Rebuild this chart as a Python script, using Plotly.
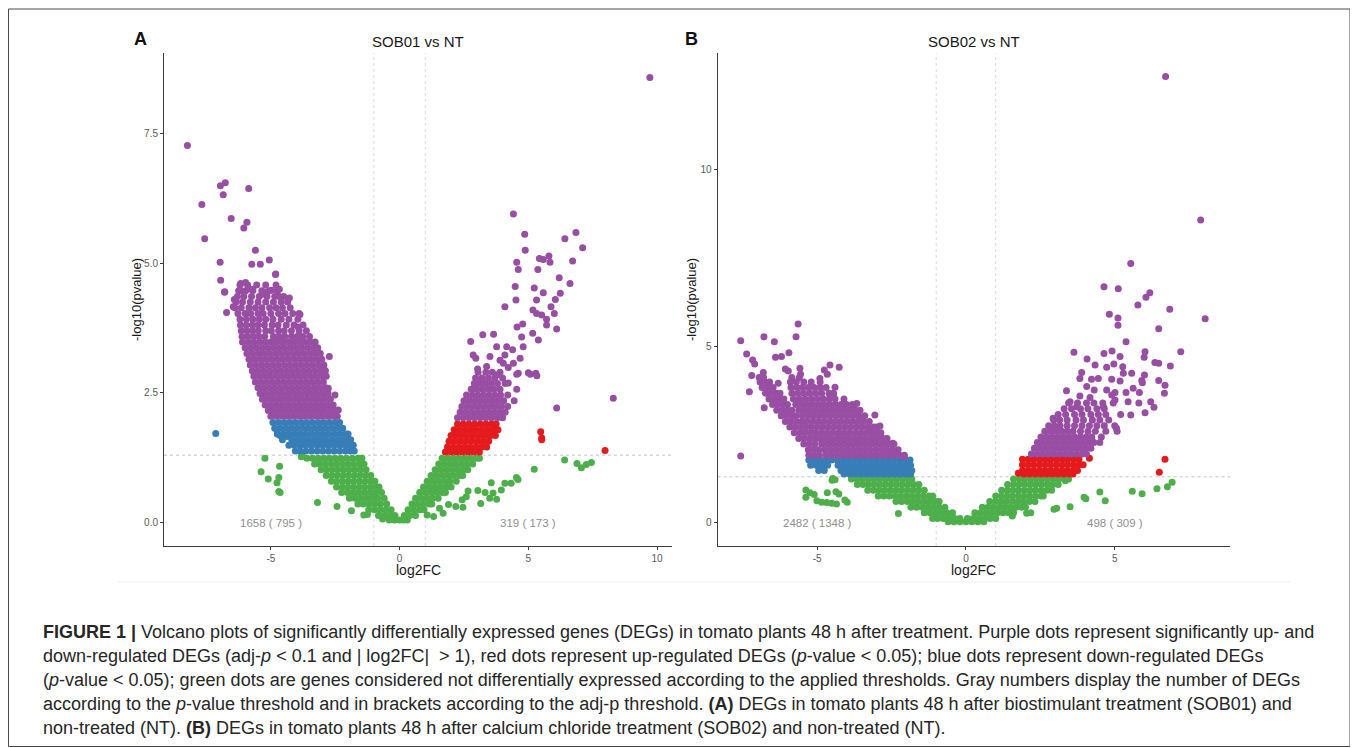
import plotly.graph_objects as go

# ---------------- colours ----------------
PURPLE = "#984EA3"
RED = "#E41A1C"
BLUE = "#377EB8"
GREEN = "#4DAF4A"

# =============== Panel A : SOB01 vs NT ===============
A_title = "SOB01 vs NT"
A_xticks = [-5, 0, 5, 10]
A_yticks = [0, 2.5, 5, 7.5]
A_yticktext = ["0.0", "2.5", "5.0", "7.5"]
A_counts_left = "1658 ( 795 )"
A_counts_right = "319 ( 173 )"

# dense rows: (log10 p, [log2FC ...])
A_green_left_rows = [
    (1.24, [-3.6, -3.38, -3.16, -2.94, -2.72, -2.5, -2.28, -2.06, -1.84, -1.62, -1.47]),
    (1.13, [-3.3, -3.1, -2.88, -2.66, -2.44, -2.22, -2.0, -1.78, -1.56, -1.38]),
    (1.02, [-3.05, -2.84, -2.62, -2.4, -2.18, -1.96, -1.74, -1.52, -1.3]),
    (0.91, [-2.85, -2.64, -2.42, -2.2, -1.98, -1.76, -1.54, -1.32, -1.12]),
    (0.80, [-2.65, -2.44, -2.22, -2.0, -1.78, -1.56, -1.34, -1.12, -0.96]),
    (0.69, [-2.45, -2.23, -2.01, -1.79, -1.57, -1.35, -1.13, -0.91, -0.8]),
    (0.58, [-2.25, -2.03, -1.81, -1.59, -1.37, -1.15, -0.93, -0.7]),
    (0.47, [-1.95, -1.73, -1.51, -1.29, -1.07, -0.85, -0.6]),
    (0.36, [-1.62, -1.4, -1.18, -0.96, -0.74, -0.5]),
    (0.25, [-1.2, -0.98, -0.76, -0.54, -0.33]),
    (0.14, [-0.82, -0.6, -0.38, -0.18]),
    (0.05, [-0.4, -0.2, 0.0]),
]
A_green_right_rows = [
    (1.24, [1.65, 1.87, 2.09, 2.31, 2.53, 2.75, 2.97, 3.1]),
    (1.13, [1.52, 1.74, 1.96, 2.18, 2.4, 2.62, 2.84]),
    (1.02, [1.38, 1.6, 1.82, 2.04, 2.26, 2.48, 2.65]),
    (0.91, [1.22, 1.44, 1.66, 1.88, 2.1, 2.32, 2.45]),
    (0.80, [1.07, 1.29, 1.51, 1.73, 1.95, 2.2]),
    (0.69, [0.93, 1.15, 1.37, 1.59, 1.81, 2.0]),
    (0.58, [0.78, 1.0, 1.22, 1.44, 1.66, 1.78]),
    (0.47, [0.62, 0.84, 1.06, 1.28, 1.5]),
    (0.36, [0.48, 0.7, 0.92, 1.14, 1.25]),
    (0.25, [0.33, 0.55, 0.77, 0.95]),
    (0.14, [0.18, 0.4, 0.62]),
    (0.05, [0.15, 0.3]),
]
A_green_pts = [
    (-3.82, 1.27), (-5.23, 1.24), (-5.38, 0.98), (-5.10, 0.84), (-4.76, 0.77), (-4.69, 0.87),
    (-4.66, 1.09), (-4.69, 0.60), (-4.64, 0.58), (-3.19, 0.39), (-2.43, 0.31), (-1.87, 0.23),
    (-1.39, 0.15), (-1.25, 0.16), (-1.47, 1.24), (-3.79, 1.29), (-0.66, 0.07),
    (6.41, 1.21), (5.23, 1.03), (6.89, 1.14), (7.06, 1.06), (7.25, 1.12), (7.45, 1.16),
    (4.54, 0.87), (4.60, 0.83), (4.33, 0.76), (4.09, 0.76), (3.56, 0.77), (3.95, 0.63),
    (3.63, 0.57), (3.77, 0.45), (3.50, 0.47), (3.32, 0.58), (3.04, 0.62), (3.15, 0.37),
    (2.66, 0.61), (2.59, 0.50), (2.43, 0.44), (2.18, 0.31), (2.46, 0.30), (1.90, 0.35),
    (1.69, 0.18), (1.55, 0.28), (1.32, 0.12), (1.07, 0.15),
]
A_blue_rows = [
    (1.93, [-4.92, -4.7, -4.48, -4.26, -4.04, -3.82, -3.6, -3.38, -3.16, -2.94, -2.72, -2.5, -2.33]),
    (1.82, [-4.85, -4.63, -4.41, -4.19, -3.97, -3.75, -3.53, -3.31, -3.09, -2.87, -2.65, -2.43, -2.21]),
    (1.71, [-4.75, -4.52, -4.3, -4.08, -3.86, -3.64, -3.42, -3.2, -2.98, -2.76, -2.54, -2.32, -2.1, -2.0]),
    (1.60, [-4.55, -4.19, -3.97, -3.75, -3.53, -3.31, -3.09, -2.87, -2.65, -2.43, -2.21, -2.0, -1.9]),
    (1.49, [-4.3, -4.08, -3.86, -3.64, -3.42, -3.2, -2.98, -2.76, -2.54, -2.32, -2.1, -1.9, -1.8]),
    (1.38, [-4.05, -3.86, -3.64, -3.42, -3.2, -2.98, -2.76, -2.54, -2.32, -2.1, -1.92, -1.76]),
]
A_blue_pts = [(-7.14, 1.72), (-4.77, 1.79), (-4.64, 1.68), (-4.36, 1.66)]
A_red_rows = [
    (1.90, [2.25, 2.47, 2.69, 2.91, 3.13, 3.35, 3.57, 3.75]),
    (1.79, [2.12, 2.34, 2.56, 2.78, 3.0, 3.22, 3.44, 3.66, 3.82]),
    (1.68, [2.0, 2.22, 2.44, 2.66, 2.88, 3.1, 3.32, 3.54, 3.72]),
    (1.57, [1.92, 2.14, 2.36, 2.58, 2.8, 3.02, 3.24, 3.46]),
    (1.46, [1.86, 2.08, 2.3, 2.52, 2.74, 2.96, 3.18, 3.38]),
    (1.36, [1.78, 2.0, 2.22, 2.44, 2.66, 2.88, 3.1]),
]
A_red_pts = [(5.48, 1.75), (5.52, 1.63), (5.52, 1.60), (7.98, 1.39)]
A_purple_rows = [
    (2.05, [-5.0, -4.78, -4.56, -4.34, -4.12, -3.9, -3.68, -3.46, -3.24, -3.02, -2.8, -2.58, -2.42]),
    (2.16, [-5.1, -4.89, -4.67, -4.45, -4.23, -4.01, -3.79, -3.57, -3.35, -3.13, -2.91, -2.69, -2.47]),
    (2.27, [-5.22, -5.0, -4.78, -4.56, -4.34, -4.12, -3.9, -3.68, -3.46, -3.24, -3.02, -2.8, -2.58]),
    (2.38, [-5.33, -5.11, -4.89, -4.67, -4.45, -4.23, -4.01, -3.79, -3.57, -3.35, -3.13, -2.91, -2.69]),
    (2.49, [-5.42, -5.2, -4.98, -4.76, -4.54, -4.32, -4.1, -3.88, -3.66, -3.44, -3.22, -3.0, -2.78]),
    (2.60, [-5.5, -5.29, -5.07, -4.85, -4.63, -4.41, -4.19, -3.97, -3.75, -3.53, -3.31, -3.09, -2.87]),
    (2.71, [-5.6, -5.38, -5.16, -4.94, -4.72, -4.5, -4.28, -4.06, -3.84, -3.62, -3.4, -3.18, -2.96]),
    (2.82, [-5.66, -5.45, -5.23, -5.01, -4.79, -4.57, -4.35, -4.13, -3.91, -3.69, -3.47, -3.25, -3.03, -2.85]),
    (2.93, [-5.72, -5.5, -5.28, -5.06, -4.84, -4.62, -4.4, -4.18, -3.96, -3.74, -3.52, -3.3, -3.08, -2.88]),
    (3.04, [-5.8, -5.58, -5.36, -5.14, -4.92, -4.7, -4.48, -4.26, -4.04, -3.82, -3.6, -3.38, -3.16, -2.94]),
    (3.15, [-5.85, -5.64, -5.42, -5.2, -4.98, -4.76, -4.54, -4.32, -4.1, -3.88, -3.66, -3.44, -3.22, -3.02]),
    (3.26, [-5.93, -5.71, -5.49, -5.27, -5.05, -4.83, -4.61, -4.39, -4.17, -3.95, -3.73, -3.51, -3.29, -3.08]),
    (3.37, [-6.0, -5.78, -5.56, -5.34, -5.12, -4.9, -4.68, -4.46, -4.24, -4.02, -3.8, -3.58, -3.36, -3.18]),
    (3.48, [-6.1, -5.88, -5.66, -5.44, -5.22, -5.0, -4.78, -4.56, -4.34, -4.12, -3.9, -3.68, -3.46, -3.28]),
    (3.59, [-6.12, -5.9, -5.68, -5.46, -5.24, -4.9, -4.68, -4.46, -4.2, -3.98, -3.76, -3.5]),
    (3.70, [-6.15, -5.93, -5.71, -5.49, -5.2, -4.98, -4.7, -4.48, -4.2, -3.9, -3.62]),
    (3.81, [-6.18, -5.96, -5.72, -5.5, -5.25, -4.95, -4.72, -4.4, -4.1, -3.75]),
    (3.92, [-6.2, -5.95, -5.7, -5.45, -5.2, -4.92, -4.6, -4.3, -3.95]),
    (4.03, [-6.28, -6.0, -5.78, -5.5, -5.3, -5.0, -4.7, -4.45, -4.15, -3.9]),
    (4.14, [-6.4, -6.15, -5.85, -5.6, -5.35, -5.05, -4.8, -4.55, -4.25]),
    (4.25, [-6.35, -6.1, -5.8, -5.5, -5.2, -4.9, -4.6, -4.35]),
    (4.36, [-6.3, -6.05, -5.75, -5.45, -5.15, -4.85, -4.5]),
    (4.47, [-6.25, -5.98, -5.7, -5.35, -5.05, -4.75]),
    (4.58, [-6.2, -5.9, -5.55, -5.2, -4.8]),
    # right arm, dense lower part
    (2.02, [2.25, 2.47, 2.69, 2.91, 3.13, 3.35, 3.57, 3.79, 4.0]),
    (2.13, [2.35, 2.57, 2.79, 3.01, 3.23, 3.45, 3.67, 3.89, 4.1]),
    (2.24, [2.42, 2.64, 2.86, 3.08, 3.3, 3.52, 3.74, 3.96, 4.2]),
    (2.35, [2.5, 2.72, 2.94, 3.16, 3.38, 3.6, 3.82, 4.04, 4.45]),
    (2.46, [2.6, 2.82, 3.04, 3.26, 3.48, 3.7, 3.92, 4.2]),
    (2.57, [2.78, 3.0, 3.22, 3.44, 3.66, 3.9, 4.55]),
    (2.68, [2.9, 3.12, 3.34, 3.56, 3.8, 4.1]),
    (2.79, [2.95, 3.2, 3.45, 3.7, 4.0]),
    (2.90, [3.05, 3.35, 3.6, 3.9]),
]
A_purple_pts = [
    (-8.24, 7.27), (-7.68, 6.13), (-7.57, 5.47), (-6.96, 6.49), (-6.77, 6.55), (-6.85, 6.32),
    (-5.86, 6.44), (-6.54, 5.86), (-5.93, 5.79), (-6.05, 5.68), (-5.60, 5.25), (-6.97, 5.02),
    (-5.41, 4.98), (-5.74, 4.98), (-5.06, 5.06), (-6.95, 4.67), (-4.82, 4.78), (-6.17, 4.61),
    (-5.98, 4.63), (-6.80, 4.44), (-6.09, 4.46), (-5.85, 4.51), (-5.70, 4.50), (-5.34, 4.40),
    (-5.15, 4.45), (-4.98, 4.48), (-4.67, 4.50), (-4.67, 4.36), (-6.42, 4.30), (-4.28, 4.33),
    (-6.79, 4.45), (-6.72, 4.05), (-4.81, 4.79), (-3.87, 4.01), (-3.94, 3.77), (-2.73, 3.20),
    (-2.96, 2.99), (-2.77, 2.59), (-2.51, 2.46), (-2.38, 2.17), (-6.46, 4.16),
    (4.42, 5.95), (4.86, 5.56), (4.88, 5.25), (6.42, 5.47), (6.85, 5.59), (7.11, 5.30),
    (6.72, 5.04), (4.55, 5.02), (4.61, 4.88), (5.37, 4.88), (5.43, 5.09), (5.58, 5.07),
    (5.80, 5.14), (5.84, 5.02), (6.20, 4.72), (6.62, 4.61), (4.49, 4.55), (5.23, 4.52),
    (5.58, 4.43), (6.24, 4.42), (4.52, 4.29), (5.32, 4.29), (6.05, 4.30), (4.09, 4.16),
    (5.18, 4.10), (5.88, 4.16), (5.32, 4.03), (5.52, 4.00), (5.71, 3.92), (6.01, 4.03),
    (4.78, 3.83), (4.56, 3.77), (5.71, 3.81), (6.10, 3.73), (3.23, 3.62), (3.65, 3.63),
    (4.74, 3.58), (5.17, 3.65), (5.39, 3.52), (2.76, 3.49), (3.77, 3.39), (4.16, 3.39),
    (4.39, 3.33), (4.80, 3.39), (2.96, 3.17), (3.51, 3.20), (4.09, 3.23), (4.68, 3.17),
    (3.03, 2.96), (3.38, 3.01), (4.03, 3.07), (4.42, 3.07), (4.61, 2.88), (5.00, 2.89),
    (5.29, 2.88), (2.99, 2.75), (3.79, 2.85), (4.22, 2.69), (2.86, 3.23), (3.90, 3.13),
    (4.22, 2.99), (4.55, 2.86), (5.08, 2.86), (5.33, 2.83),
    (8.30, 2.40), (6.10, 2.21), (9.72, 8.58),
]

# =============== Panel B : SOB02 vs NT ===============
B_title = "SOB02 vs NT"
B_xticks = [-5, 0, 5]
B_yticks = [0, 5, 10]
B_yticktext = ["0", "5", "10"]
B_counts_left = "2482 ( 1348 )"
B_counts_right = "498 ( 309 )"

B_green_left_rows = [
    (1.24, [-3.85, -3.66, -3.47, -3.28, -3.09, -2.9, -2.71, -2.52, -2.33, -2.14, -1.95, -1.82]),
    (1.08, [-3.65, -3.46, -3.27, -3.08, -2.89, -2.7, -2.51, -2.32, -2.13, -1.94, -1.75, -1.58]),
    (0.92, [-3.3, -3.11, -2.92, -2.73, -2.54, -2.35, -2.16, -1.97, -1.78, -1.59, -1.4]),
    (0.76, [-2.95, -2.76, -2.57, -2.38, -2.19, -2.0, -1.81, -1.62, -1.43, -1.24, -1.12]),
    (0.60, [-2.35, -2.16, -1.97, -1.78, -1.59, -1.4, -1.21, -1.02, -0.9]),
    (0.44, [-1.85, -1.66, -1.47, -1.28, -1.09, -0.9, -0.71]),
    (0.28, [-1.4, -1.21, -1.02, -0.83, -0.64, -0.45]),
    (0.12, [-0.95, -0.76, -0.57, -0.38, -0.2]),
    (0.03, [-0.6, -0.4, -0.2, 0.0, 0.2]),
]
B_green_right_rows = [
    (1.24, [1.6, 1.79, 1.98, 2.17, 2.36, 2.55, 2.74, 2.93, 3.12, 3.31, 3.45]),
    (1.08, [1.4, 1.59, 1.78, 1.97, 2.16, 2.35, 2.54, 2.73, 2.92, 3.1]),
    (0.92, [1.2, 1.39, 1.58, 1.77, 1.96, 2.15, 2.34, 2.53, 2.72, 2.88]),
    (0.76, [1.0, 1.19, 1.38, 1.57, 1.76, 1.95, 2.14, 2.33, 2.52, 2.6]),
    (0.60, [0.8, 0.99, 1.18, 1.37, 1.56, 1.75, 1.94, 2.13, 2.32]),
    (0.44, [0.55, 0.74, 0.93, 1.12, 1.31, 1.5, 1.69, 1.88, 2.0]),
    (0.28, [0.3, 0.49, 0.68, 0.87, 1.06, 1.25, 1.44, 1.6]),
    (0.12, [0.05, 0.24, 0.43, 0.62, 0.81, 1.0]),
    (0.03, [0.4, 0.6]),
]
B_green_pts = [
    (-4.5, 1.2), (-4.4, 1.22), (-5.38, 0.93), (-5.24, 0.85), (-5.10, 0.80), (-5.38, 0.72),
    (-5.01, 0.62), (-4.66, 0.85), (-4.37, 0.88), (-4.27, 0.81), (-4.07, 0.64), (-3.99, 0.58),
    (-4.85, 0.58), (-4.68, 0.57), (-4.51, 0.55), (-4.35, 0.53), (-4.48, 1.25), (-2.27, 0.26),
    (-1.12, 0.12),
    (3.34, 1.19), (4.50, 0.87), (4.68, 0.62), (5.59, 0.89), (5.92, 0.82), (6.42, 0.96),
    (6.77, 1.02), (6.93, 1.15), (3.97, 0.72), (4.03, 0.68), (3.50, 0.45), (3.05, 0.41),
    (2.96, 0.38), (2.18, 0.28), (2.04, 0.27), (1.56, 0.19),
]
B_blue_rows = [
    (1.78, [-5.28, -5.09, -4.9, -4.71, -4.52, -4.33, -4.14, -3.95, -3.76, -3.57, -3.38, -3.19,
            -3.0, -2.81, -2.62, -2.43, -2.24, -2.05, -1.88]),
    (1.63, [-5.22, -5.03, -4.84, -4.65, -4.3, -4.11, -3.92, -3.73, -3.54, -3.35, -3.16, -2.97,
            -2.78, -2.59, -2.4, -2.21, -2.02, -1.86]),
    (1.48, [-4.95, -4.76, -4.2, -4.01, -3.82, -3.63, -3.44, -3.25, -3.06, -2.87, -2.68, -2.49,
            -2.3, -2.11, -1.92, -1.82]),
    (1.38, [-4.1, -3.91, -3.72, -3.53, -3.34, -3.15, -2.96, -2.77, -2.58, -2.39, -2.2, -2.01, -1.86]),
]
B_red_rows = [
    (1.80, [1.9, 2.09, 2.28, 2.47, 2.66, 2.85, 3.04, 3.23, 3.42, 3.61, 3.8]),
    (1.64, [1.9, 2.09, 2.28, 2.47, 2.66, 2.85, 3.04, 3.23, 3.42, 3.61, 3.8, 3.94]),
    (1.48, [1.9, 2.09, 2.28, 2.47, 2.66, 2.85, 3.04, 3.23, 3.42, 3.61, 3.75]),
    (1.38, [1.95, 2.14, 2.33, 2.52, 2.71, 2.9, 3.09, 3.28, 3.47, 3.6]),
]
B_red_pts = [(1.76, 1.40), (4.15, 1.83), (6.69, 1.80), (6.50, 1.43)]
B_purple_rows = [
    # left: diagonal streak + broad cluster
    (1.91, [-5.28, -5.1, -4.92, -4.7, -4.51, -4.32, -4.13, -3.94, -3.75, -3.56, -3.37, -3.18,
            -2.99, -2.8, -2.61, -2.42, -2.23, -2.07]),
    (2.07, [-5.3, -5.12, -4.95, -4.75, -4.56, -4.37, -4.18, -3.99, -3.8, -3.61, -3.42, -3.23,
            -3.04, -2.85, -2.66, -2.47, -2.28]),
    (2.23, [-5.45, -5.27, -5.08, -4.85, -4.66, -4.47, -4.28, -4.09, -3.9, -3.71, -3.52, -3.33,
            -3.14, -2.95, -2.76, -2.57, -2.42]),
    (2.39, [-5.62, -5.44, -5.25, -5.08, -4.93, -4.74, -4.55, -4.36, -4.17, -3.98, -3.79, -3.6,
            -3.41, -3.22, -3.03, -2.84, -2.65]),
    (2.55, [-5.77, -5.58, -5.4, -5.22, -5.05, -4.86, -4.67, -4.48, -4.29, -4.1, -3.91, -3.72,
            -3.53, -3.34, -3.15, -2.96, -2.86]),
    (2.71, [-5.92, -5.74, -5.55, -5.38, -5.2, -5.01, -4.82, -4.63, -4.44, -4.25, -4.06, -3.87,
            -3.68, -3.49, -3.3, -3.1, -3.0]),
    (2.87, [-6.07, -5.89, -5.7, -5.52, -5.35, -5.16, -4.97, -4.78, -4.59, -4.4, -4.21, -4.02,
            -3.83, -3.64, -3.45, -3.25]),
    (3.03, [-6.21, -6.03, -5.85, -5.7, -5.5, -5.31, -5.12, -4.93, -4.74, -4.55, -4.36, -4.17,
            -3.98, -3.79, -3.6, -3.4]),
    (3.19, [-6.36, -6.18, -6.0, -5.85, -5.62, -5.43, -5.24, -5.05, -4.86, -4.67, -4.48, -4.29,
            -4.1, -3.91, -3.72, -3.56]),
    (3.35, [-6.5, -6.32, -6.14, -6.0, -5.72, -5.53, -5.34, -5.15, -4.96, -4.77, -4.58, -4.39,
            -4.2, -4.01, -3.82]),
    (3.51, [-6.62, -6.44, -6.26, -6.12, -5.8, -5.6, -5.4, -5.2, -5.0, -4.8, -4.6, -4.4, -4.1]),
    (3.67, [-6.74, -6.56, -6.38, -6.25, -5.85, -5.65, -5.45, -5.25, -5.05, -4.85, -4.6, -4.45]),
    (3.83, [-6.85, -6.66, -6.48, -5.88, -5.68, -5.5, -5.3, -5.1, -4.9, -4.7]),
    (3.99, [-6.92, -6.75, -6.6, -5.9, -5.7, -5.45, -5.2, -4.9]),
    (4.12, [-6.95, -6.8, -5.85, -5.6]),
    # right arm, dense lower part
    (1.95, [2.2, 2.39, 2.58, 2.77, 2.96, 3.15, 3.34, 3.53, 3.72, 3.91, 4.05]),
    (2.11, [2.3, 2.49, 2.68, 2.87, 3.06, 3.25, 3.44, 3.63, 3.82, 4.01, 4.2]),
    (2.27, [2.4, 2.59, 2.78, 2.97, 3.16, 3.35, 3.54, 3.73, 3.92, 4.11, 4.3, 4.5]),
    (2.43, [2.52, 2.71, 2.9, 3.09, 3.28, 3.47, 3.66, 3.85, 4.04, 4.23, 4.55]),
    (2.59, [2.65, 2.84, 3.03, 3.22, 3.41, 3.6, 3.85, 4.1, 4.35, 4.7]),
    (2.75, [2.78, 2.97, 3.16, 3.4, 3.65, 3.9, 4.15, 4.4, 4.65, 5.0]),
    (2.91, [2.95, 3.15, 3.4, 3.7, 3.95, 4.25, 4.5, 4.8]),
    (3.07, [3.1, 3.35, 3.65, 3.9, 4.2, 4.45, 4.7, 5.2]),
    (3.23, [3.3, 3.55, 3.85, 4.1, 4.4, 4.65]),
    (3.39, [3.45, 3.75, 4.05, 4.3, 4.6, 4.95]),
]
B_purple_pts = [
    (-7.57, 5.16), (-6.79, 5.27), (-6.44, 5.13), (-5.71, 5.27), (-5.64, 5.63), (-7.37, 4.78),
    (-7.17, 4.61), (-7.10, 4.50), (-6.40, 4.69), (-6.20, 4.71), (-5.95, 4.82), (-7.20, 4.17),
    (-7.28, 3.71), (-6.81, 4.26), (-6.78, 3.26), (-7.57, 1.89), (-6.07, 4.36), (-5.97, 4.30),
    (-5.58, 4.38), (-5.56, 4.21), (-4.57, 4.47), (-4.26, 4.41), (-4.76, 4.33), (-4.66, 4.21),
    (-4.91, 4.09), (-6.31, 3.95), (-3.06, 3.05), (-2.89, 2.74), (-3.67, 3.38), (-3.51, 2.97),
    (-3.76, 3.24), (-2.46, 2.25), (-2.39, 2.03), (-2.07, 1.87), (-2.78, 2.39), (-3.17, 2.68),
    (-4.40, 3.84), (-4.46, 3.62),
    (6.71, 12.65), (7.89, 8.58), (5.54, 7.35), (4.64, 6.69), (5.12, 6.63), (6.05, 6.39),
    (6.18, 6.52), (5.78, 6.17), (6.85, 6.05), (8.04, 5.78), (4.82, 5.91), (5.11, 5.80),
    (5.11, 5.60), (6.48, 5.50), (5.38, 5.13), (3.63, 4.83), (4.64, 4.80), (4.91, 4.87),
    (6.02, 4.85), (7.22, 4.85), (4.07, 4.64), (5.18, 4.71), (5.99, 4.69), (6.35, 4.54),
    (6.48, 4.52), (6.87, 4.44), (4.34, 4.47), (4.73, 4.41), (4.97, 4.50), (5.27, 4.42),
    (3.89, 4.26), (5.29, 4.24), (5.57, 4.24), (3.83, 4.09), (4.22, 4.07), (4.45, 4.09),
    (4.90, 4.07), (5.18, 4.02), (5.91, 4.03), (6.00, 4.19), (6.48, 4.03), (6.69, 3.90),
    (4.06, 3.86), (4.31, 3.76), (4.73, 3.76), (5.01, 3.69), (5.38, 3.69), (5.62, 3.81),
    (5.93, 3.97), (6.67, 3.67), (3.38, 3.74), (3.83, 3.59), (4.17, 3.55), (3.50, 3.43),
    (5.01, 3.48), (5.45, 3.43), (5.83, 3.69), (6.21, 3.43), (5.81, 3.39), (5.54, 3.05),
    (6.02, 3.12), (6.32, 3.27), (2.93, 2.96), (3.72, 3.29), (5.06, 2.68), (5.08, 2.59),
    (4.90, 3.62), (4.62, 3.29),
]

CAPTION = [
    "<b>FIGURE 1 |</b> Volcano plots of significantly differentially expressed genes (DEGs) in tomato plants 48 h after treatment. Purple dots represent significantly up- and",
    "down-regulated DEGs (adj-<i>p</i> &lt; 0.1 and | log2FC|  &gt; 1), red dots represent up-regulated DEGs (<i>p</i>-value &lt; 0.05); blue dots represent down-regulated DEGs",
    "(<i>p</i>-value &lt; 0.05); green dots are genes considered not differentially expressed according to the applied thresholds. Gray numbers display the number of DEGs",
    "according to the <i>p</i>-value threshold and in brackets according to the adj-p threshold. <b>(A)</b> DEGs in tomato plants 48 h after biostimulant treatment (SOB01) and",
    "non-treated (NT). <b>(B)</b> DEGs in tomato plants 48 h after calcium chloride treatment (SOB02) and non-treated (NT).",
]


def unpack(rows, pts=()):
    xs, ys = [], []
    for yv, xl in rows:
        for xv in xl:
            xs.append(xv)
            ys.append(yv)
    for xv, yv in pts:
        xs.append(xv)
        ys.append(yv)
    return xs, ys


# the page body has an 8 px margin: the figure occupies screen pixels 8..1358 x 8..748
OFF = 8
W, H = 1358 - OFF, 748 - OFF
FONT = "Liberation Sans, Arial, Helvetica, sans-serif"
fig = go.Figure()


def px(p):
    return (p - OFF) / W


def py(p):
    return (H - (p - OFF)) / H


def add_group(xa, ya, rows, pts, color):
    xs, ys = unpack(rows, pts)
    fig.add_trace(go.Scatter(x=xs, y=ys, xaxis=xa, yaxis=ya, mode="markers",
                             marker=dict(color=color, size=7, line=dict(width=0)),
                             hoverinfo="skip", showlegend=False))


add_group("x", "y", A_green_left_rows + A_green_right_rows, A_green_pts, GREEN)
add_group("x", "y", A_blue_rows, A_blue_pts, BLUE)
add_group("x", "y", A_red_rows, A_red_pts, RED)
add_group("x", "y", A_purple_rows, A_purple_pts, PURPLE)

add_group("x2", "y2", B_green_left_rows + B_green_right_rows, B_green_pts, GREEN)
add_group("x2", "y2", B_blue_rows, [], BLUE)
add_group("x2", "y2", B_red_rows, B_red_pts, RED)
add_group("x2", "y2", B_purple_rows, B_purple_pts, PURPLE)

axis_common = dict(showline=True, linecolor="#3d3d3d", linewidth=1, ticks="outside",
                   ticklen=3, tickcolor="#3d3d3d", showgrid=False, zeroline=False,
                   tickfont=dict(family=FONT, size=10, color="#5a5a5a"), fixedrange=True)

ydom = [py(546), py(53)]
fig.update_layout(
    width=W, height=H, margin=dict(l=0, r=0, t=0, b=0),
    paper_bgcolor="white", plot_bgcolor="white",
    font=dict(family=FONT),
    xaxis=dict(domain=[px(164), px(672)], range=[-9.15, 10.58], tickvals=A_xticks,
               ticktext=[str(v) for v in A_xticks], anchor="y", **axis_common),
    yaxis=dict(domain=ydom, range=[-0.449, 9.05], tickvals=A_yticks, ticktext=A_yticktext,
               anchor="x", **axis_common),
    xaxis2=dict(domain=[px(717.5), px(1230)], range=[-8.35, 8.875], tickvals=B_xticks,
                ticktext=[str(v) for v in B_xticks], anchor="y2", **axis_common),
    yaxis2=dict(domain=ydom, range=[-0.661, 13.317], tickvals=B_yticks, ticktext=B_yticktext,
                anchor="x2", **axis_common),
)

shapes = []
for xa, ya in (("x", "y"), ("x2", "y2")):
    for xv in (-1, 1):
        shapes.append(dict(type="line", xref=xa, yref=ya + " domain", x0=xv, x1=xv, y0=0, y1=1,
                           line=dict(color="#dadada", width=1, dash="dot"), layer="below"))
    shapes.append(dict(type="line", xref=xa + " domain", yref=ya, x0=0, x1=1, y0=1.301, y1=1.301,
                       line=dict(color="#bcc3ca", width=1, dash="dot"), layer="below"))
# outer frame and faint image edge
shapes.append(dict(type="rect", xref="paper", yref="paper", x0=px(8.5), x1=px(1350), y0=py(746.5),
                   y1=py(9), line=dict(color="#4a4a4a", width=1)))
shapes.append(dict(type="line", xref="paper", yref="paper", x0=px(118), x1=px(1290), y0=py(582),
                   y1=py(582), line=dict(color="#f5f5f5", width=1.5), layer="below"))
fig.update_layout(shapes=shapes)

ann = []
# panel titles and letters
ann.append(dict(text=A_title, x=px(418), y=py(42), xref="paper", yref="paper", showarrow=False,
                font=dict(size=15, color="#1a1a1a"), xanchor="center", yanchor="middle"))
ann.append(dict(text=B_title, x=px(973.5), y=py(42), xref="paper", yref="paper", showarrow=False,
                font=dict(size=15, color="#1a1a1a"), xanchor="center", yanchor="middle"))
ann.append(dict(text="<b>A</b>", x=px(140), y=py(39), xref="paper", yref="paper", showarrow=False,
                font=dict(size=18, color="#111"), xanchor="center", yanchor="middle"))
ann.append(dict(text="<b>B</b>", x=px(691), y=py(39), xref="paper", yref="paper", showarrow=False,
                font=dict(size=18, color="#111"), xanchor="center", yanchor="middle"))
# axis titles
for cx in (418, 973.5):
    ann.append(dict(text="log2FC", x=px(cx), y=py(570), xref="paper", yref="paper",
                    showarrow=False, font=dict(size=14, color="#1a1a1a"),
                    xanchor="center", yanchor="middle"))
for cx in (136, 691):
    ann.append(dict(text="-log10(pvalue)", x=px(cx), y=py(300), xref="paper", yref="paper",
                    showarrow=False, textangle=-90, font=dict(size=13, color="#1a1a1a"),
                    xanchor="center", yanchor="middle"))
# count labels
for xa, ya, xv, t in (("x", "y", -5, A_counts_left), ("x", "y", 5, A_counts_right),
                      ("x2", "y2", -5, B_counts_left), ("x2", "y2", 5, B_counts_right)):
    ann.append(dict(text=t, x=xv, y=0, xref=xa, yref=ya, showarrow=False,
                    font=dict(size=11.5, color="#8f8f8f"), xanchor="center", yanchor="middle"))
# caption
for i, line in enumerate(CAPTION):
    ann.append(dict(text=line, x=px(41), y=py(632 + 24 * i), xref="paper", yref="paper",
                    showarrow=False, font=dict(size=18, color="#262626"),
                    xanchor="left", yanchor="middle", align="left"))
fig.update_layout(annotations=ann)

fig.write_html("out.html")
